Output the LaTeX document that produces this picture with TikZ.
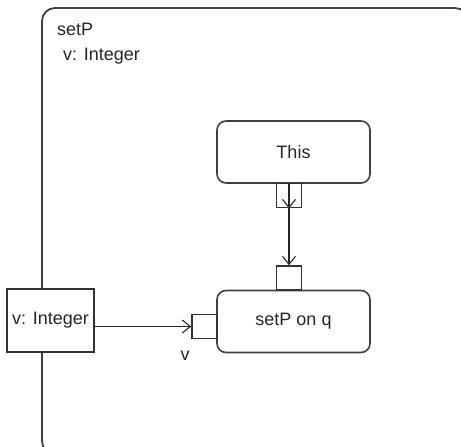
\documentclass[tikz,border=0pt]{standalone}
\usepackage{fontspec}
\setmainfont{Liberation Sans}
\usetikzlibrary{arrows.meta}

\begin{document}
\begin{tikzpicture}[x=1pt, y=-1pt, >={Straight Barb[length=8pt,width=13pt]},
    action/.style={draw=black!75, line width=1.6pt, rounded corners=9pt,
      minimum width=153pt, minimum height=62pt, inner sep=0pt},
    pinbox/.style={draw=black!80, line width=1.6pt, fill=white,
      minimum width=25pt, minimum height=24pt, inner sep=0pt},
    param/.style={draw=black!80, line width=1.6pt, fill=white,
      minimum width=87pt, minimum height=63pt, inner sep=0pt},
    flow/.style={->, line width=1.1pt, black!85},
    lbl/.style={font=\fontsize{18}{21}\selectfont, text=black!85}]
      \useasboundingbox (0,0) rectangle (461,447);
      \clip (0,0) rectangle (461,447);
      % Activity frame
      \draw[black!75, line width=1.8pt, rounded corners=13pt] (42,8) rectangle (468,454);
      \node[lbl, anchor=base west, inner sep=0pt] (title) at (57,35) {setP};
      \node[lbl, anchor=base west, inner sep=0pt] (titlepar) at (63,60) {v: Integer};

      % Actions
      \node[action, lbl] (this) at (293.5,152) {This};
      \node[action, lbl] (setpq) at (293.5,321.5) {setP on q};

      % Pins
      \node[pinbox] (thispin) at (289,195.5) {};
      \node[pinbox] (toppin) at (289,278) {};
      \node[pinbox] (leftpin) at (204.5,326.5) {};
      \node[lbl, inner sep=0pt] (vlbl) at (185,356) {v};

      % Parameter node
      \node[param, lbl, inner sep=0pt] (vint) at (50.5,320.5) {v: Integer};

      % Flows
      \draw[flow] (thispin.north) -- (thispin.south);
      \draw[flow] (thispin.south) -- (toppin.north);
      \draw[flow] (vint.east |- leftpin.west) -- (leftpin.west);
\end{tikzpicture}
\end{document}
